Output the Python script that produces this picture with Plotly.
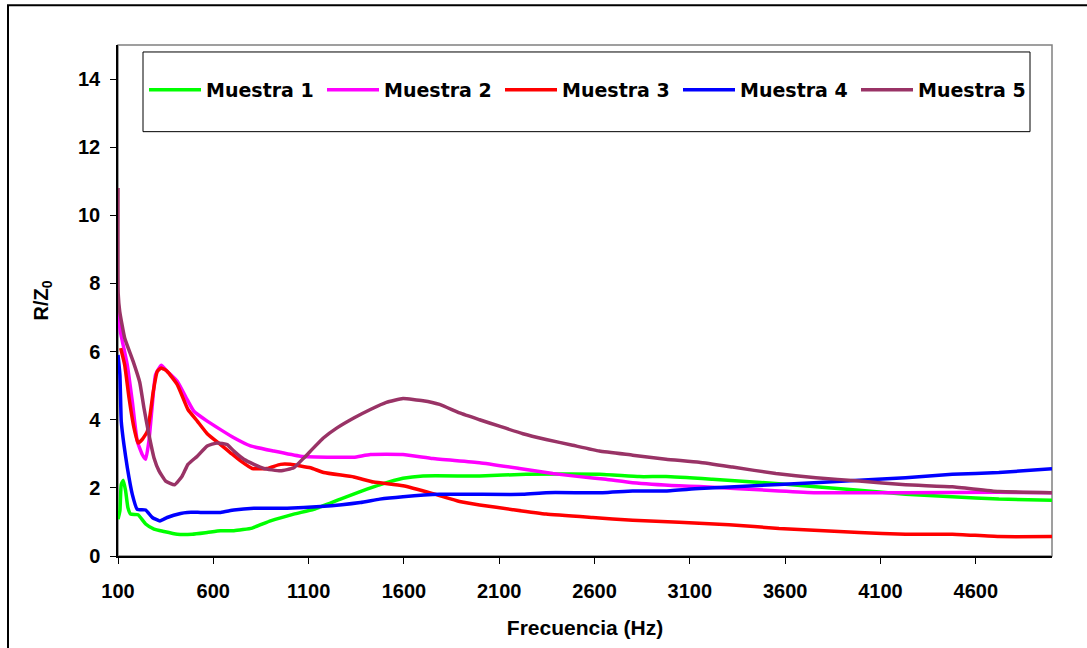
import plotly.graph_objects as go

f1 = [100,110,117,128,140,152,166,205,245,289,341,411,489,568,638,708,804,900,1022,1127,1267,1406,1473,1595,1700,1997,2241,2625,2835,2975,3219,3568,3988,4232,4477,4721,5000]
v1 = [1.08,1.33,2.1,2.22,1.91,1.42,1.23,1.21,0.94,0.79,0.72,0.64,0.64,0.69,0.74,0.74,0.82,1.03,1.23,1.37,1.67,1.96,2.09,2.28,2.35,2.35,2.40,2.40,2.33,2.33,2.25,2.12,1.93,1.81,1.74,1.67,1.64]

f2 = [100,112,123,149,175,201,227,245,262,280,297,327,358,411,463,498,568,638,708,795,917,1057,1232,1337,1424,1595,1752,1997,2206,2381,2520,2660,2800,3044,3149,3568,3761,4232,4721,5000]
v2 = [7.2,6.6,6.3,5.6,4.54,3.37,2.98,2.84,3.37,4.44,5.32,5.6,5.42,5.13,4.59,4.25,3.96,3.71,3.47,3.23,3.08,2.93,2.9,2.9,2.98,2.98,2.86,2.74,2.57,2.42,2.33,2.25,2.15,2.06,2.04,1.91,1.86,1.86,1.87,1.86]

f3 = [114,135,158,184,205,227,254,271,285,306,327,358,411,467,516,568,638,690,743,804,882,952,1005,1110,1179,1337,1441,1595,1752,1892,1997,2171,2346,2590,2800,3044,3306,3568,3988,4232,4477,4721,5000]
v3 = [6.1,5.61,4.64,3.76,3.32,3.42,3.66,4.25,4.83,5.42,5.52,5.42,5.03,4.3,3.96,3.59,3.27,3.03,2.79,2.57,2.57,2.69,2.69,2.59,2.45,2.32,2.17,2.06,1.83,1.6,1.5,1.36,1.23,1.13,1.05,0.99,0.92,0.81,0.69,0.64,0.64,0.57,0.57]

f4 = [100,110,117,131,149,175,201,245,280,320,358,428,463,533,638,708,813,987,1162,1371,1473,1595,1787,2224,2346,2642,2800,2975,3149,3568,3988,4232,4477,4721,5000]
v4 = [5.9,5.32,3.96,3.27,2.59,1.81,1.37,1.35,1.13,1.03,1.13,1.25,1.28,1.28,1.28,1.35,1.4,1.4,1.45,1.57,1.67,1.74,1.81,1.81,1.86,1.86,1.91,1.91,1.98,2.1,2.22,2.3,2.4,2.45,2.56]

f5 = [100,101,109,135,179,214,236,262,289,315,350,397,437,467,516,568,620,673,708,760,813,865,952,1022,1075,1179,1249,1337,1424,1508,1595,1700,1787,1892,1997,2101,2224,2346,2485,2625,2800,2975,3149,3324,3551,3761,3988,4232,4477,4721,5000]
v5 = [10.8,7.7,7.18,6.4,5.72,5.1,4.35,3.57,2.88,2.5,2.2,2.09,2.35,2.69,2.93,3.23,3.32,3.27,3.08,2.84,2.69,2.57,2.5,2.59,2.88,3.47,3.76,4.05,4.3,4.51,4.62,4.56,4.45,4.2,4.0,3.81,3.59,3.42,3.25,3.08,2.96,2.84,2.75,2.61,2.42,2.3,2.2,2.09,2.03,1.89,1.86]

series = [
    ("Muestra 1", f1, v1, "#00FF00"),
    ("Muestra 2", f2, v2, "#FF00FF"),
    ("Muestra 3", f3, v3, "#FF0000"),
    ("Muestra 4", f4, v4, "#0000FF"),
    ("Muestra 5", f5, v5, "#993366"),
]

x_ticks = [100, 600, 1100, 1600, 2100, 2600, 3100, 3600, 4100, 4600]
y_ticks = [0, 2, 4, 6, 8, 10, 12, 14]

FONT = "Liberation Sans, Arial, sans-serif"
LFONT = "DejaVu Sans, Liberation Sans, sans-serif"

fig = go.Figure()
for name, fx, vy, col in series:
    fig.add_trace(go.Scatter(x=fx, y=vy, mode="lines", name=name,
                             line=dict(color=col, width=3.5, shape="spline", smoothing=0.4)))

W, H = 1087, 648
L, R, T, B = 118, 35, 45, 90
pw, ph = W - L - R, H - T - B

def px(x):
    return (x - L) / pw

def py(y):
    return 1 - (y - T) / ph

shapes = [
    dict(type="rect", xref="paper", yref="paper", x0=px(8), x1=px(1095), y0=py(656), y1=py(5),
         line=dict(color="black", width=2), layer="below"),
    dict(type="rect", xref="paper", yref="paper", x0=0, x1=1, y0=0, y1=1,
         line=dict(color="#808080", width=1.5), layer="below"),
    dict(type="rect", xref="paper", yref="paper", x0=px(143), x1=px(1030), y0=py(132), y1=py(52),
         line=dict(color="black", width=1), fillcolor="white", layer="below"),
]

fig.update_layout(
    width=W, height=H,
    margin=dict(l=L, r=R, t=T, b=B),
    paper_bgcolor="white", plot_bgcolor="white",
    font=dict(family=FONT, color="black", size=15),
    shapes=shapes,
    showlegend=True,
    legend=dict(orientation="h", x=px(144), y=py(90), xanchor="left", yanchor="middle",
                bgcolor="rgba(0,0,0,0)", borderwidth=0,
                font=dict(family=LFONT, size=19, color="black", weight="bold"),
                entrywidth=111, entrywidthmode="pixels", itemwidth=52),
    xaxis=dict(range=[100, 5000], tickvals=x_ticks, ticktext=[str(t) for t in x_ticks],
               showgrid=False, zeroline=False, showline=True, linecolor="black", linewidth=1.5,
               ticks="outside", ticklen=6, tickcolor="black", ticklabelstandoff=10,
               tickfont=dict(family=FONT, size=20, weight="bold"),
               title=dict(text="Frecuencia (Hz)", font=dict(family=FONT, size=21, weight="bold"), standoff=20)),
    yaxis=dict(range=[0, 15], tickvals=y_ticks, ticktext=[str(t) for t in y_ticks],
               showgrid=False, zeroline=False, showline=True, linecolor="black", linewidth=1.5,
               ticks="outside", ticklen=6, tickcolor="black", ticklabelstandoff=6,
               tickfont=dict(family=FONT, size=20, weight="bold"),
               title=dict(text="R/Z<sub>0</sub>", font=dict(family=FONT, size=20, weight="bold"), standoff=24)),
)

fig.write_html("out.html", post_script="document.body.style.margin='0';",
               config={"displayModeBar": False})
